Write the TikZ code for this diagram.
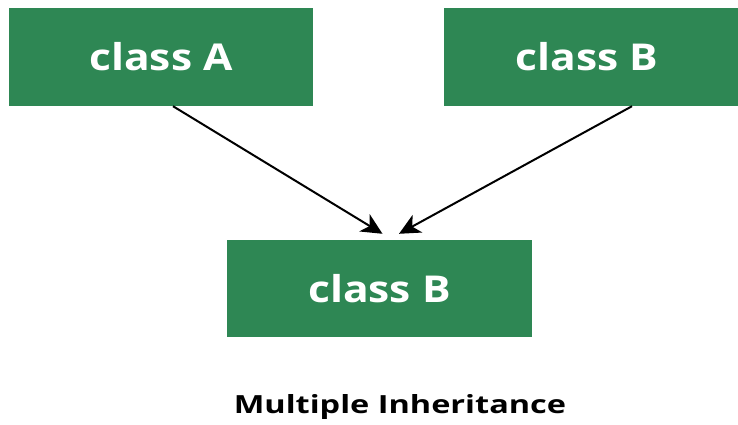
\documentclass[tikz,border=0pt]{standalone}
\usepackage{fontspec}
\setmainfont{Open Sans}
\newfontfamily\classfont{Open Sans}[FakeStretch=1.15]
\newfontfamily\titlefont{Open Sans}[FakeStretch=1.3]
\usetikzlibrary{arrows.meta}

\definecolor{classgreen}{RGB}{46,135,84}

\begin{document}
\begin{tikzpicture}[x=1pt, y=-1pt]
    \tikzstyle{every node}+=[inner sep=0pt]
    \tikzstyle{classbox}=[fill=classgreen, text=white, font=\classfont\fontsize{37}{40}\selectfont\bfseries]
    \tikzstyle{inherit}=[black, line width=2pt, -{Stealth[length=21pt, width=20pt, inset=6pt]}]
    \useasboundingbox (0,0) rectangle (738,425);
    \node [classbox, minimum width=304pt, minimum height=98pt] (clsa) at (161,57) {class A};
    \node [classbox, minimum width=296pt, minimum height=98pt] (clsb) at (592,57) {\hspace*{-10pt}class B};
    \node [classbox, minimum width=305pt, minimum height=97pt] (clsc) at (379.5,288.5) {class B};
    \node [font=\titlefont\fontsize{25}{28}\selectfont\bfseries, anchor=base] (title) at (400,413) {Multiple Inheritance};
    \draw [inherit] ([xshift=12pt]clsa.south) -- ([xshift=3pt, yshift=6pt]clsc.north);
    \draw [inherit] ([xshift=40pt]clsb.south) -- ([xshift=19.5pt, yshift=6pt]clsc.north);
\end{tikzpicture}
\end{document}
